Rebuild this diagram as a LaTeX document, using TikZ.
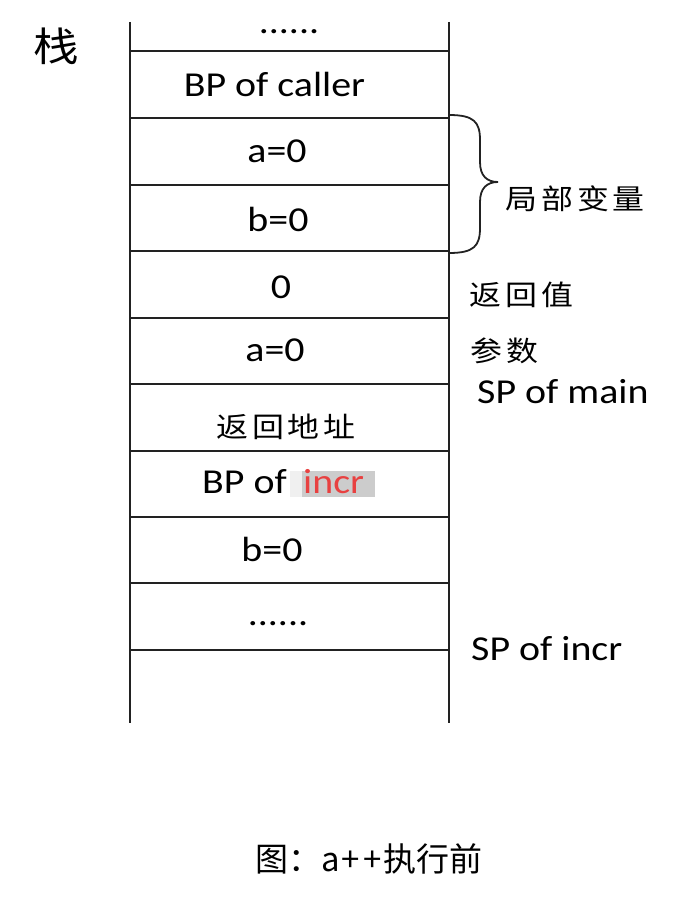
\documentclass[tikz,border=0pt]{standalone}
\usepackage{fontspec}
\setmainfont{Carlito}[FakeStretch=1.14]
\newfontfamily\cjk{Noto Sans CJK SC}[FakeStretch=1.14]
\newfontfamily\cjkcap{Noto Sans CJK SC}
\definecolor{incrred}{RGB}{232,64,64}
\definecolor{linegray}{RGB}{34,34,34}
\newcommand{\zsp}{\kern4pt}
\begin{document}
\begin{tikzpicture}[x=1pt,y=-1pt,
  stackline/.style={line width=2.2pt, draw=linegray},
  lat/.style={font=\fontsize{35}{40}\selectfont, inner sep=0pt, anchor=base},
  zh/.style={font=\cjk\fontsize{28}{32}\selectfont, inner sep=0pt},
  bracepath/.style={line width=1.8pt, draw=linegray}]
\useasboundingbox (0,0) rectangle (682,920);
% stack walls
\draw[stackline] (130,22) -- (130,723);
\draw[stackline] (449,22) -- (449,723);
\foreach \yy in {51,118,185,251,318,384,451,517,583,650}
  \draw[stackline] (130,\yy) -- (449,\yy);
% cell contents
\node[lat] (dotsA) at (289,34) {......};
\node[lat] (bpc) at (274.5,97) {BP of caller};
\node[lat] (aA) at (277,163) {a=0};
\node[lat] (bA) at (278,231) {b=0};
\node[lat] (ret) at (281,298) {0};
\node[lat] (aB) at (275,361) {a=0};
\node[zh] (retaddr) at (286,427) {返\zsp 回\zsp 地\zsp 址};
\node[lat, anchor=base west] (bpi) at (202,493) {BP of};
\fill[gray!12] (290,471) rectangle (375,497);
\fill[gray!40] (302,471) rectangle (375,497);
\node[lat, anchor=base west, text=incrred] (incr) at (303,493) {incr};
\node[lat] (bB) at (272,561) {b=0};
\node[lat] (dotsB) at (278,625) {......};
% brace
\draw[bracepath] (449,115) .. controls (474,115) and (480,122) .. (480,140)
  -- (480,162) .. controls (480,176) and (487,182) .. (498,182)
  .. controls (487,182) and (480,188) .. (480,202)
  -- (480,228) .. controls (480,246) and (474,253) .. (449,253);
% side labels
\node[zh, anchor=west] (locals) at (505,199) {局\zsp 部\zsp 变\zsp 量};
\node[zh, anchor=west] (retval) at (469,295) {返\zsp 回\zsp 值};
\node[zh, anchor=west] (params) at (470,351) {参\zsp 数};
\node[lat, anchor=base west] (spmain) at (477,403) {SP of main};
\node[lat, anchor=base west] (spincr) at (471,660) {SP of incr};
\node[font=\cjk\fontsize{40}{44}\selectfont, inner sep=0pt] (zhan) at (56,46) {栈};
\node[font=\cjkcap\fontsize{33}{38}\selectfont, inner sep=0pt] (caption) at (369,859) {图：a\kern2pt+\kern3pt+\kern2pt执行前};
\end{tikzpicture}
\end{document}
